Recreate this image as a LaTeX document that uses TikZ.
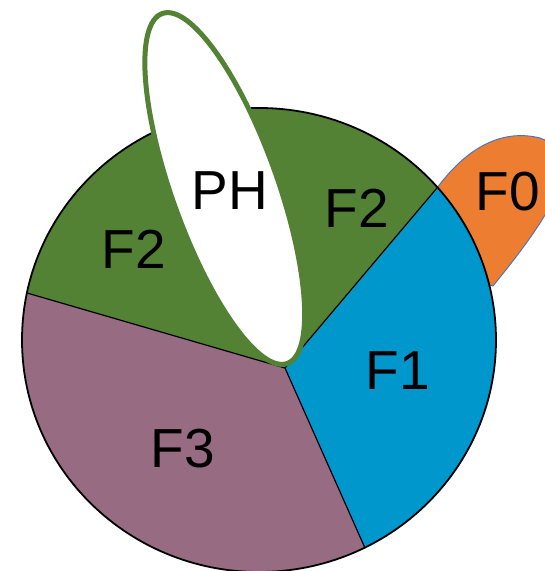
\documentclass[tikz,border=0pt]{standalone}
\usepackage{fontspec}
\setmainfont{Liberation Sans}
\usetikzlibrary{calc}
\definecolor{pgreen}{RGB}{84,130,53}
\definecolor{pblue}{RGB}{0,152,204}
\definecolor{ppurple}{RGB}{151,107,130}
\definecolor{porange}{RGB}{237,125,49}
\definecolor{poutline}{RGB}{68,114,196}
\begin{document}
\begin{tikzpicture}[x=1pt,y=1pt,
  lbl/.style={inner sep=0pt, font=\fontsize{55}{60}\selectfont},
  border/.style={draw=black, line width=1.2pt}]
\useasboundingbox (0,0) rectangle (545,571);
% named points
\coordinate (J) at (285,203);
\coordinate (A) at (27,278);
\coordinate (B) at (437,383);
\coordinate (C) at (365,23);
\coordinate (O) at (259,231);
\coordinate (P) at (224.75,382.5);
% F0 lobe behind the disc
\filldraw[fill=porange, draw=poutline, line width=0.9pt]
  (B) .. controls (465,421) and (500,443) .. (540,433)
      .. controls (565,426) and (565,381) .. (545,356)
      .. controls (530,331) and (510,306) .. (493,285)
      -- (440,300) -- cycle;
% disc: F3 base
\fill[ppurple] (O) ellipse [x radius=237, y radius=232];
% F2 sector
\begin{scope}
  \clip (J) -- ($(J)!2!(A)$) -- (-231,923) -- ($(J)!4!(B)$) -- cycle;
  \fill[pgreen] (O) ellipse [x radius=237, y radius=232];
\end{scope}
% F1 sector
\begin{scope}
  \clip (J) -- ($(J)!4!(B)$) -- (950,923) -- (950,-400) -- ($(J)!3!(C)$) -- cycle;
  \fill[pblue] (O) ellipse [x radius=237, y radius=232];
\end{scope}
% sector borders
\draw[border] (J) -- (A);
\draw[border] (J) -- (B);
\draw[border] (J) -- (C);
\draw[draw=black, line width=1.8pt] (O) ellipse [x radius=237, y radius=232];
% PH lobe
\begin{scope}[shift={(P)}, rotate=-70.35]
  \filldraw[fill=white, draw=pgreen, line width=5pt]
    (0,0) ellipse [x radius=185.8, y radius=52.9];
\end{scope}
% labels
\node[lbl] (ph) at (230,380) {PH};
\node[lbl] (f2r) at (357,363) {F2};
\node[lbl] (f2l) at (134,322) {F2};
\node[lbl] (f0) at (508,379) {F0};
\node[lbl] (f1) at (398,200) {F1};
\node[lbl] (f3) at (183,122) {F3};
\end{tikzpicture}
\end{document}
